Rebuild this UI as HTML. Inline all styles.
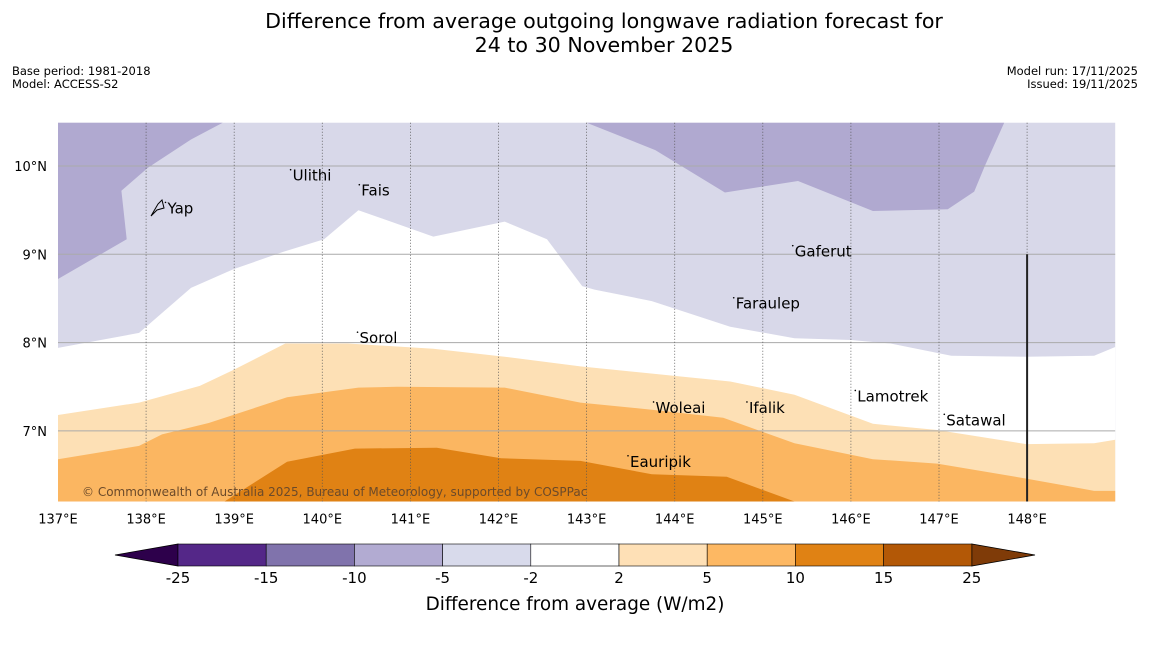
<!DOCTYPE html>
<html><head><meta charset="utf-8"><style>
body{margin:0;background:#fff;width:1150px;height:644px;overflow:hidden;font-family:"Liberation Sans","DejaVu Sans",sans-serif}
</style></head><body>
<svg id="chart" width="1150" height="644" xmlns="http://www.w3.org/2000/svg" font-family="DejaVu Sans, Liberation Sans, sans-serif">
<text x="604" y="28" font-size="20.6" text-anchor="middle">Difference from average outgoing longwave radiation forecast for</text>
<text x="604" y="52" font-size="20.6" text-anchor="middle">24 to 30 November 2025</text>
<text x="12" y="75" font-size="11.5">Base period: 1981-2018</text>
<text x="12" y="88" font-size="11.5">Model: ACCESS-S2</text>
<text x="1138" y="75" font-size="11.5" text-anchor="end">Model run: 17/11/2025</text>
<text x="1138" y="88" font-size="11.5" text-anchor="end">Issued: 19/11/2025</text>
<g id="map"></g>
<g id="cbar"></g>
</svg>
<script>
const lonMin=137, lonMax=149, latMin=6.2, latMax=10.49;
const X0=58, PXD=88.1, Y10=166, PYD=88.3;
function xs(lon){return X0+(lon-lonMin)*PXD;}
function ys(lat){return Y10-(lat-10)*PYD;}
const lonTicks=[137,138,139,140,141,142,143,144,145,146,147,148];
const latTicks=[7,8,9,10];
const purpleLeft=[[137.0,10.49],[138.87,10.49],[138.51,10.30],[138.02,9.98],[137.72,9.72],[137.78,9.17],[137.0,8.72]];
const purpleRight=[[143.0,10.49],[143.78,10.18],[144.57,9.70],[145.40,9.83],[146.25,9.49],[147.10,9.51],[147.40,9.71],[147.52,10.0],[147.74,10.49]];
const b1=[[137.0,7.94],[137.92,8.11],[138.51,8.62],[138.99,8.83],[139.56,9.03],[140.02,9.17],[140.41,9.50],[141.26,9.20],[142.07,9.37],[142.55,9.17],[142.95,8.64],[143.09,8.60],[143.74,8.47],[144.63,8.18],[145.36,8.05],[146.0,8.03],[146.45,7.99],[147.14,7.85],[147.99,7.84],[148.76,7.85],[149.0,7.95]];
const b2=[[137.0,7.18],[137.92,7.32],[138.61,7.51],[138.99,7.69],[139.58,7.99],[140.29,7.99],[141.26,7.93],[142.07,7.84],[142.93,7.73],[144.63,7.56],[145.36,7.41],[146.25,7.08],[146.98,7.01],[147.99,6.85],[148.76,6.86],[149.0,6.90]];
const b3=[[137.0,6.68],[137.92,6.83],[138.18,6.96],[138.71,7.09],[139.60,7.38],[140.41,7.49],[140.85,7.50],[142.07,7.49],[142.93,7.32],[143.74,7.24],[144.55,7.15],[145.36,6.86],[146.25,6.68],[146.98,6.63],[147.99,6.46],[148.60,6.35],[148.76,6.32],[149.0,6.32]];
const b4=[[138.89,6.20],[139.60,6.65],[140.37,6.80],[141.30,6.81],[142.03,6.69],[142.93,6.66],[143.74,6.51],[144.59,6.48],[145.36,6.20]];
const places=[["Yap",138.22,9.52],["Ulithi",139.64,9.89],["Fais",140.42,9.72],["Gaferut",145.34,9.03],["Faraulep",144.67,8.44],["Sorol",140.4,8.05],["Woleai",143.76,7.26],["Ifalik",144.82,7.26],["Lamotrek",146.05,7.39],["Satawal",147.06,7.12],["Eauripik",143.47,6.65]];
const levels=["-25","-15","-10","-5","-2","2","5","10","15","25"];
const cbColors=["#542788","#8073ac","#b2abd2","#d8daeb","#ffffff","#fee0b6","#fdb863","#e08214","#b35806"];
const NS="http://www.w3.org/2000/svg";
function mk(tag,attrs,parent){const e=document.createElementNS(NS,tag);for(const k in attrs)e.setAttribute(k,attrs[k]);parent.appendChild(e);return e;}
function pts(a){return a.map(p=>xs(p[0]).toFixed(1)+","+ys(p[1]).toFixed(1)).join(" ");}
function below(line){return pts(line)+" "+xs(line[line.length-1][0]).toFixed(1)+","+ys(latMin)+" "+xs(line[0][0]).toFixed(1)+","+ys(latMin);}
const map=document.getElementById('map');
const L=xs(lonMin),R=xs(lonMax),T=ys(latMax),B=ys(latMin);
let e=mk('rect',{x:L,y:T,width:R-L,height:B-T,fill:'#d8d8e9'},map);


e=mk('polygon',{points:pts(purpleLeft),fill:'#b0a9d0'},map);


e=mk('polygon',{points:pts(purpleRight),fill:'#b0a9d0'},map);


const fills=[[b1,'#ffffff','anomaly-near-zero'],[b2,'#fde0b5','anomaly-2-to-5'],[b3,'#fbb661','anomaly-5-to-10'],[b4,'#e08214','anomaly-10-to-15']];
fills.forEach(f=>{const p=mk('polygon',{points:below(f[0]),fill:f[1]},map);

});
latTicks.forEach(v=>{const g=mk('line',{x1:L,x2:R,y1:ys(v),y2:ys(v),stroke:'#aaa','stroke-width':1},map);


const t=mk('text',{x:L-11,y:ys(v)+5,'font-size':13,'text-anchor':'end'},map);t.textContent=v+'°N';

});
lonTicks.forEach(v=>{if(v>lonMin){const g=mk('line',{x1:xs(v),x2:xs(v),y1:T,y2:B,stroke:'#555','stroke-width':0.8,'stroke-dasharray':'1,2'},map);

}
const t=mk('text',{x:xs(v),y:B+22,'font-size':13,'text-anchor':'middle'},map);t.textContent=v+'°E';

});
e=mk('line',{x1:xs(148),x2:xs(148),y1:ys(9),y2:B,stroke:'#222','stroke-width':2},map);


places.forEach(p=>{const d=mk('circle',{cx:xs(p[1]),cy:ys(p[2])-6,r:0.8,fill:'#000'},map);


const t=mk('text',{x:xs(p[1])+2,y:ys(p[2])+5,'font-size':15},map);t.textContent=p[0];

});
e=mk('path',{d:'M151,216 L158,204 L162,200 L164,208 L157,210 Z',fill:'none',stroke:'#000','stroke-width':1},map);


e=mk('text',{x:82,y:496,'font-size':12,fill:'#6b4a2a'},map);e.textContent='© Commonwealth of Australia 2025, Bureau of Meteorology, supported by COSPPac';


const cb=document.getElementById('cbar');
const cx0=178,cw=88.2,cy=544,ch=22,nseg=cbColors.length;
e=mk('polygon',{points:`115,${cy+ch/2} ${cx0},${cy} ${cx0},${cy+ch}`,fill:'#2d004b',stroke:'#000','stroke-width':0.8},cb);


const xr=cx0+cw*nseg;
e=mk('polygon',{points:`1035,${cy+ch/2} ${xr},${cy} ${xr},${cy+ch}`,fill:'#7f3b08',stroke:'#000','stroke-width':0.8},cb);


cbColors.forEach((c,i)=>{const r=mk('rect',{x:cx0+i*cw,y:cy,width:cw,height:ch,fill:c,stroke:'#000','stroke-width':0.6},cb);

});
levels.forEach((l,i)=>{const t=mk('text',{x:cx0+i*cw,y:583,'font-size':15,'text-anchor':'middle'},cb);t.textContent=l;

});
e=mk('text',{x:575,y:610,'font-size':18.4,'text-anchor':'middle'},cb);e.textContent='Difference from average (W/m2)';


</script>
</body></html>
